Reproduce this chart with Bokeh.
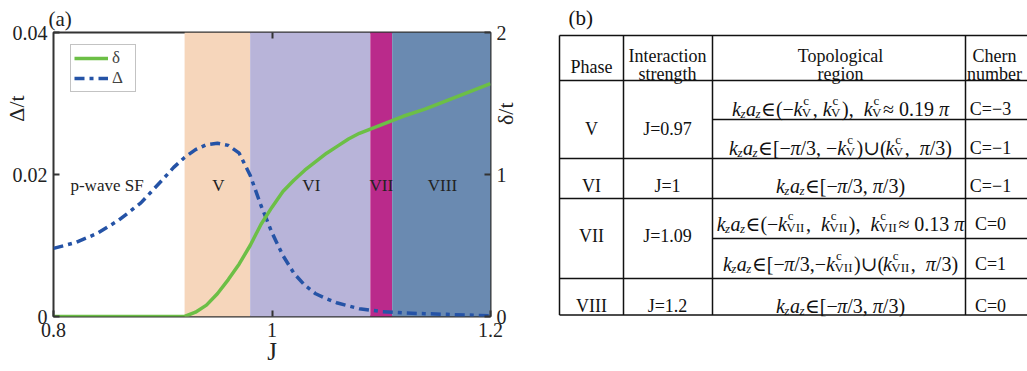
import numpy as np
from bokeh.plotting import figure
from bokeh.models import (Range1d, LinearAxis, FixedTicker, Legend, LegendItem,
                          NumeralTickFormatter, CustomJSTickFormatter)
from bokeh.layouts import row
from bokeh.core.properties import value
from bokeh.embed import file_html
from bokeh.resources import INLINE

FONT = "Liberation Serif"
NB = "\u00a0"

# ---------------- data : panel (a) ----------------
J = [0.80, 0.82, 0.84, 0.86, 0.88, 0.90, 0.91, 0.92, 0.93, 0.94, 0.95, 0.96, 0.97,
     0.98, 0.99, 1.00, 1.01, 1.02, 1.03, 1.04, 1.05, 1.06, 1.07, 1.08, 1.09, 1.10,
     1.12, 1.14, 1.16, 1.18, 1.20]
gap_Delta = [0.0096, 0.0104, 0.0117, 0.0136, 0.0160, 0.0193, 0.0210, 0.0224, 0.0235,
             0.0242, 0.0244, 0.0241, 0.0230, 0.0199, 0.0156, 0.0118, 0.0086, 0.0061,
             0.0044, 0.0032, 0.0025, 0.0019, 0.0015, 0.0011, 0.0009, 0.0007, 0.0005,
             0.0004, 0.0003, 0.0002, 0.0001]
delta_t = [0.0, 0.0, 0.0, 0.0, 0.0, 0.0, 0.0, 0.0, 0.03, 0.08, 0.16, 0.26, 0.37,
           0.50, 0.65, 0.77, 0.88, 0.96, 1.03, 1.09, 1.15, 1.20, 1.25, 1.29, 1.32,
           1.35, 1.41, 1.46, 1.52, 1.58, 1.64]

band_left = [0.92, 0.98, 1.09, 1.11]
band_right = [0.98, 1.09, 1.11, 1.20]
band_color = ["#F6D6BB", "#B8B4D9", "#BA2A8B", "#6A8AB1"]

region_labels = ["p-wave SF", "V", "VI", "VII", "VIII"]
region_label_x = [0.849, 0.951, 1.036, 1.100, 1.156]
region_label_y = [0.0185, 0.0185, 0.0185, 0.0185, 0.0185]

x_ticks = [0.8, 1.0, 1.2]
left_ticks = [0.0, 0.02, 0.04]
right_ticks = [0.0, 1.0, 2.0]

# ---------------- data : panel (b) ----------------
header_text = ["Phase", "Interaction", "strength", "Topological", "region", "Chern", "number"]
phases = ["V", "VI", "VII", "VIII"]
strengths = ["J=0.97", "J=1", "J=1.09", "J=1.2"]
chern_numbers = ["C=\u22123", "C=\u22121", "C=\u22121", "C=0", "C=1", "C=0"]

KZAZ = [("i", "k"), ("si", "z"), ("i", "a"), ("si", "z")]
def KC(sub):
    return [("i", "k"), ("ss", "c", sub)]

regions_formula = [
    KZAZ + [("n", "\u2208(\u2212")] + KC("V") + [("n", ", ")] + KC("V") + [("n", " ), ")] + KC("V") + [("n", " \u2248 0.19"), ("i", "\u03c0")],
    KZAZ + [("n", "\u2208[\u2212"), ("i", "\u03c0"), ("n", "/3, \u2212")] + KC("V") + [("n", ")\u222a(")] + KC("V") + [("n", " , "), ("i", "\u03c0"), ("n", "/3)")],
    KZAZ + [("n", "\u2208[\u2212"), ("i", "\u03c0"), ("n", "/3, "), ("i", "\u03c0"), ("n", "/3)")],
    KZAZ + [("n", "\u2208(\u2212")] + KC("VII") + [("n", " , ")] + KC("VII") + [("n", " ), ")] + KC("VII") + [("n", " \u2248 0.13"), ("i", "\u03c0")],
    KZAZ + [("n", "\u2208[\u2212"), ("i", "\u03c0"), ("n", "/3,\u2212")] + KC("VII") + [("n", ")\u222a(")] + KC("VII") + [("n", " , "), ("i", "\u03c0"), ("n", "/3)")],
    KZAZ + [("n", "\u2208[\u2212"), ("i", "\u03c0"), ("n", "/3, "), ("i", "\u03c0"), ("n", "/3)")],
]

# ---------------- panel (a) ----------------
p = figure(width=545, height=371, x_range=Range1d(0.8, 1.2), y_range=Range1d(0, 0.04),
           output_backend="svg", toolbar_location=None, title="(a)",
           min_border_left=52, min_border_right=55, min_border_top=32, min_border_bottom=55)
p.title.text_font = FONT
p.title.text_font_size = "21px"
p.title.text_font_style = "normal"
p.title.text_color = "#222222"
p.title.align = "left"
p.title.offset = -5
p.title.standoff = 4
p.extra_y_ranges = {"d": Range1d(0, 2)}
p.xgrid.visible = False
p.ygrid.visible = False
p.outline_line_color = "#333333"
p.outline_line_width = 2
p.background_fill_color = "white"

p.quad(left=band_left, right=band_right, bottom=0, top=0.04, color=band_color, line_color=None)
r_gap = p.line(J, gap_Delta, line_color="#2553A6", line_width=3.5, line_dash="10 5 4 5")
r_del = p.line(J, delta_t, y_range_name="d", line_color="#6CBF46", line_width=3.5)

p.text(x=region_label_x, y=region_label_y, text=region_labels, text_font=value(FONT),
       text_font_size=value("17px"), text_align="center", text_baseline="middle", text_color="#222222")

def style_axis(ax, ticks, fmt):
    ax.ticker = FixedTicker(ticks=ticks)
    ax.formatter = NumeralTickFormatter(format=fmt)
    ax.axis_line_color = None
    ax.major_tick_line_color = "#333333"
    ax.major_tick_line_width = 2
    ax.major_tick_in = 6
    ax.major_tick_out = 0
    ax.minor_tick_line_color = None
    ax.major_label_text_font = FONT
    ax.major_label_text_font_size = "20px"
    ax.major_label_text_color = "#222222"
    ax.major_label_standoff = 6
    ax.axis_label_text_font = FONT
    ax.axis_label_text_font_style = "normal"
    ax.axis_label_text_color = "#222222"
    ax.axis_label_text_font_size = "22px"

xa = p.xaxis[0]
style_axis(xa, x_ticks, "0.[0]")
xa.axis_label = "J"
xa.axis_label_text_font_size = "25px"
xa.axis_label_standoff = -2

ya = p.yaxis[0]
style_axis(ya, left_ticks, "0.[00]")
ya.axis_label = NB * 24 + "\u0394/t"
ya.axis_label_standoff = -19

ax_r = LinearAxis(y_range_name="d")
p.add_layout(ax_r, "right")
style_axis(ax_r, right_ticks, "0")
ax_r.axis_label = NB * 9 + "\u03b4/t"
ax_r.axis_label_standoff = -4
try:
    ax_r.axis_label_orientation = np.pi / 2
except Exception:
    pass

ax_t = LinearAxis()
p.add_layout(ax_t, "above")
style_axis(ax_t, [1.0], "0")
ax_t.formatter = CustomJSTickFormatter(code="return ''")
ax_t.major_label_standoff = 0

legend = Legend(items=[LegendItem(label="\u03b4", renderers=[r_del]),
                       LegendItem(label="\u0394", renderers=[r_gap])],
                location=(17, 224), border_line_color="#888888", border_line_width=1.5,
                background_fill_color="white", background_fill_alpha=1.0,
                label_text_font=FONT, label_text_font_size="17px", padding=3, spacing=0,
                margin=0, glyph_width=34, glyph_height=16, label_standoff=4, label_height=16)
p.add_layout(legend)

# ---------------- panel (b) ----------------
p2 = figure(width=482, height=371, x_range=Range1d(545, 1027), y_range=Range1d(316, 32),
            x_axis_type=None, y_axis_type=None, output_backend="svg", toolbar_location=None,
            min_border_left=0, min_border_right=0, min_border_top=32, min_border_bottom=55,
            title="(b)")
p2.title.text_font = FONT
p2.title.text_font_size = "21px"
p2.title.text_font_style = "normal"
p2.title.text_color = "#111111"
p2.title.align = "left"
p2.title.offset = 23
p2.title.standoff = 6
p2.outline_line_color = None
p2.grid.visible = False

row_y = [35, 80, 158, 198, 278, 314.5]
sub_y = [119, 238]
col_x = [559, 623, 712, 965]
TR = 1060
p2.segment(x0=[559] * len(row_y), y0=row_y, x1=[TR] * len(row_y), y1=row_y, line_color="#111111", line_width=1.5)
p2.segment(x0=[712] * len(sub_y), y0=sub_y, x1=[TR] * len(sub_y), y1=sub_y, line_color="#111111", line_width=1.5)
p2.segment(x0=col_x, y0=[35] * len(col_x), x1=col_x, y1=[314.5] * len(col_x), line_color="#111111", line_width=1.5)

# plain texts
c1, c2, c3, c4 = 591, 667, 840, 990
hx = [c1, c2, c2, c3, c3, c4 + 4, c4 + 4]
hy = [66, 55, 73, 55, 73, 55, 73]
phase_y = [128, 185, 235, 305]
chern_y = [108, 147, 185, 223, 263, 305]
tx = hx + [c1] * 4 + [c2] * 4 + [c4] * 6
ty = hy + phase_y + phase_y + chern_y
tt = header_text + phases + strengths + chern_numbers
p2.text(x=tx, y=ty, text=tt, text_font=value(FONT), text_font_size=value("18px"),
        text_align="center", text_baseline="alphabetic", text_color="#111111")

# formulas (rich text built from pieces)
WN = {' ': 0.25, '(': 0.333, ')': 0.333, '[': 0.333, ']': 0.333, ',': 0.25, '.': 0.25, '/': 0.278,
      '=': 0.564, '\u2212': 0.564, '\u2248': 0.549, '\u2208': 0.72, '\u222a': 0.78, 'C': 0.667,
      'V': 0.722, 'I': 0.333, 'c': 0.444}
WI = {'k': 0.444, 'a': 0.5, 'z': 0.389, '\u03c0': 0.5}
def tw(s, tab):
    return sum(tab.get(ch, 0.5) for ch in s)

FS = 20.0
SS = 13.0
pieces = {"n": ([], [], []), "i": ([], [], []), "sn": ([], [], []), "si": ([], [], [])}
for segs, base in zip(regions_formula, chern_y):
    items = []
    x = 0.0
    for seg in segs:
        k = seg[0]
        if k == "n":
            items.append(("n", x, 0, seg[1])); x += tw(seg[1], WN) * FS
        elif k == "i":
            items.append(("i", x, 0, seg[1])); x += tw(seg[1], WI) * FS
        elif k == "si":
            items.append(("si", x - 0.5, 0.24 * FS, seg[1])); x += tw(seg[1], WI) * SS
        elif k == "ss":
            items.append(("sn", x + 1.0, -0.42 * FS, seg[1]))
            items.append(("sn", x - 0.5, 0.22 * FS, seg[2]))
            x += max(tw(seg[1], WN), tw(seg[2], WN)) * SS + 1.0
    x0 = c3 - x / 2
    for k, dx, dy, t in items:
        pieces[k][0].append(x0 + dx)
        pieces[k][1].append(base + dy)
        pieces[k][2].append(t)

for k, (xs, ys, ts) in pieces.items():
    style = "italic" if k in ("i", "si") else "normal"
    size = "%dpx" % (FS if k in ("n", "i") else SS)
    p2.text(x=xs, y=ys, text=ts, text_font=value(FONT + ", DejaVu Serif"), text_font_size=value(size),
            text_font_style=style, text_align="left", text_baseline="alphabetic", text_color="#111111")

layout = row(p, p2)
open("out.html", "w").write(file_html(layout, INLINE))
